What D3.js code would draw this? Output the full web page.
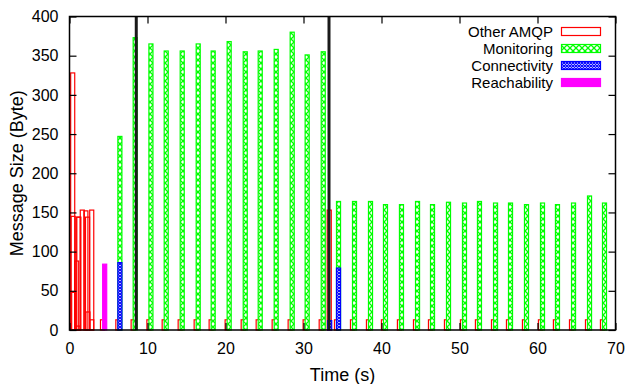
<!DOCTYPE html>
<html><head><meta charset="utf-8">
<script src="https://cdn.jsdelivr.net/npm/d3@7/dist/d3.min.js"></script>
<style>body{margin:0;background:#fff}svg{display:block}text{font-family:"Liberation Sans",Arial,sans-serif}</style>
</head><body><svg id="c" width="640" height="384"></svg>
<script>
// ---- data ----
const monitoringTimes = [6.46,8.42,10.44,12.40,14.45,16.50,18.42,20.47,22.53,24.45,26.50,28.55,30.47,32.53,34.49,36.54,38.59,40.51,42.56,44.62,46.54,48.59,50.64,52.56,54.62,56.54,58.59,60.64,62.56,64.62,66.67,68.59];
const monitoringValues = [247,373,365,356,356,365,356,368,355,356,358,380,351,355,164,164,164,160,160,164,160,163,162,164,162,162,160,162,160,162,171,162];
const otherEarlyTimes = [0.41,0.47,0.54,0.92,1.10,1.12,1.20,1.64,2.10,2.31,2.36,2.85,2.85,4.23,33.30];
const otherEarlyValues = [328,145,48,88,5,144,144,153,152,144,23,153,13,13,153];
const otherPeriodicValue = [13];
const connectivityTimes = [6.46,33.36,34.49];
const connectivityValues = [86,12,79];
const reachabilityTimes = [4.51];
const reachabilityValues = [84];
const eventTimes = [8.56,33.27];
const xTicks = [0,10,20,30,40,50,60,70];
const yTicks = [0,50,100,150,200,250,300,350,400];
const legendLabels = ["Other AMQP","Monitoring","Connectivity","Reachability"];

const otherTimes = otherEarlyTimes.concat(monitoringTimes.map(t => +(t - 0.26).toFixed(2)));
const otherValues = otherEarlyValues.concat(monitoringTimes.map(() => otherPeriodicValue[0]));

const svg = d3.select("#c");
const L = 69.5, R = 615.5, T = 16.5, B = 330;
const x = d3.scaleLinear().domain([0,70]).range([L,R]);
const y = d3.scaleLinear().domain([0,400]).range([B,T]);
const bw = 0.52;

const defs = svg.append("defs");
const pg = defs.append("pattern").attr("id","pGreen").attr("patternUnits","userSpaceOnUse").attr("width",6).attr("height",6);
pg.append("rect").attr("width",6).attr("height",6).attr("fill","#fff");
pg.append("path").attr("d","M0,0L6,6M6,0L0,6").attr("stroke","#00ff00").attr("stroke-width",1.3);
const pb = defs.append("pattern").attr("id","pBlue").attr("patternUnits","userSpaceOnUse").attr("width",3).attr("height",3);
pb.append("rect").attr("width",3).attr("height",3).attr("fill","#fff");
pb.append("path").attr("d","M0,0L3,3M3,0L0,3").attr("stroke","#0000ff").attr("stroke-width",1.1);

const series = [
  {name:"Other AMQP", t:otherTimes, v:otherValues, fill:"none", stroke:"#ff0000"},
  {name:"Monitoring", t:monitoringTimes, v:monitoringValues, fill:"url(#pGreen)", stroke:"#00ff00"},
  {name:"Connectivity", t:connectivityTimes, v:connectivityValues, fill:"url(#pBlue)", stroke:"#0000ff"},
  {name:"Reachability", t:reachabilityTimes, v:reachabilityValues, fill:"#ff00ff", stroke:"#ff00ff"}
];

const plot = svg.append("g");
series.forEach(s => {
  const data = s.t.map((t,i) => ({t, v:s.v[i]}));
  plot.selectAll(null).data(data).enter().append("rect")
    .attr("x", d => x(d.t - bw/2))
    .attr("y", d => y(d.v))
    .attr("width", d => x(d.t + bw/2) - x(d.t - bw/2))
    .attr("height", d => y(0) - y(d.v))
    .attr("fill", s.fill).attr("stroke", s.stroke).attr("stroke-width",1.2);
});

// event lines
plot.selectAll(null).data(eventTimes).enter().append("line")
  .attr("x1", d => x(d)).attr("x2", d => x(d)).attr("y1", y(0)).attr("y2", y(400))
  .attr("stroke","#1a1a1a").attr("stroke-width",3);

// axes with inward ticks
const tl = 7;
const ax = g => g.selectAll("text").attr("font-size",16).attr("fill","#000");
svg.append("g").attr("transform",`translate(0,${B})`)
  .call(d3.axisBottom(x).tickValues(xTicks).tickSizeInner(-tl).tickSizeOuter(0).tickPadding(tl+6))
  .call(g => g.select(".domain").remove()).call(ax);
svg.append("g").attr("transform",`translate(0,${T})`)
  .call(d3.axisTop(x).tickValues(xTicks).tickSizeInner(-tl).tickSizeOuter(0).tickFormat(""))
  .call(g => g.select(".domain").remove());
svg.append("g").attr("transform",`translate(${L},0)`)
  .call(d3.axisLeft(y).tickValues(yTicks).tickSizeInner(-tl).tickSizeOuter(0).tickPadding(tl+4))
  .call(g => g.select(".domain").remove()).call(ax);
svg.append("g").attr("transform",`translate(${R},0)`)
  .call(d3.axisRight(y).tickValues(yTicks).tickSizeInner(-tl).tickSizeOuter(0).tickFormat(""))
  .call(g => g.select(".domain").remove());
svg.selectAll(".tick line").attr("stroke","#000").attr("stroke-width",1.2);

svg.append("rect").attr("x",L).attr("y",T).attr("width",R-L).attr("height",B-T)
  .attr("fill","none").attr("stroke","#000").attr("stroke-width",1.5);

// axis titles
svg.append("text").attr("x",(L+R)/2).attr("y",381).attr("text-anchor","middle").attr("font-size",18).text("Time (s)");
svg.append("text").attr("transform",`translate(23,${(T+B)/2}) rotate(-90)`).attr("text-anchor","middle").attr("font-size",18).text("Message Size (Byte)");

// legend
const lg = svg.append("g");
series.forEach((s,i) => {
  const cy = 31.5 + i*17;
  lg.append("text").attr("x",553).attr("y",cy+5).attr("text-anchor","end").attr("font-size",15).text(legendLabels[i]);
  lg.append("rect").attr("x",561.5).attr("y",cy-4).attr("width",39).attr("height",8)
    .attr("fill",s.fill).attr("stroke",s.stroke).attr("stroke-width",1.2);
});
</script></body></html>
